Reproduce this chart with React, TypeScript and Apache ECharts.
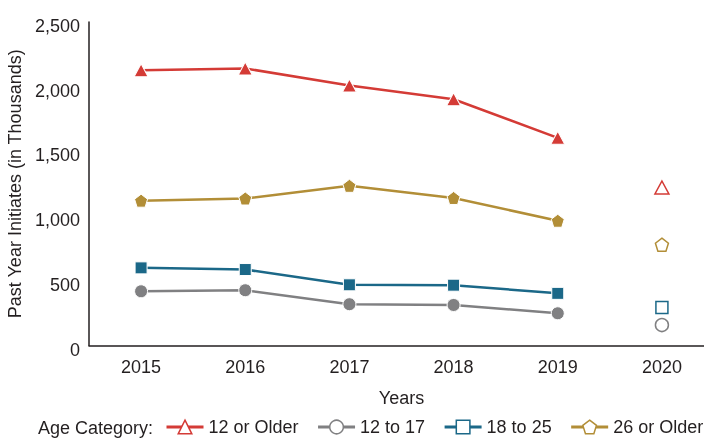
import React, { useEffect, useRef } from 'react';
import * as echarts from 'echarts';

const years = ['2015', '2016', '2017', '2018', '2019', '2020'];
const seriesNames = ['12 or Older', '12 to 17', '18 to 25', '26 or Older'];
const older12 = [2127, 2141, 2009, 1903, 1605];
const age12to17 = [419, 427, 319, 313, 249];
const age18to25 = [600, 587, 469, 466, 403];
const older26 = [1119, 1136, 1234, 1140, 964];
const values2020 = [1221, 158, 294, 779];
const yTicks = [0, 500, 1000, 1500, 2000, 2500];

const FONT = "'Liberation Sans', Arial, sans-serif";
const FS = 18;
const INK = '#231f20';
const colors = ['#d43b36', '#808082', '#1b6888', '#b28e37'];
const pentagon = 'path://M0,-10 L9.511,-3.09 L5.878,8.09 L-5.878,8.09 L-9.511,-3.09 Z';
const symbols = ['triangle', 'circle', 'rect', pentagon];
const sizes: any[] = [[14, 13], 13, 12, 13];
const mainData = [older12, age12to17, age18to25, older26];

export default function App() {
  const ref = useRef<HTMLDivElement>(null);
  useEffect(() => {
    if (!ref.current) return;
    const chart = echarts.init(ref.current, null, { renderer: 'svg' });
    const series: any[] = [];
    seriesNames.forEach((name, i) => {
      series.push({
        name,
        type: 'line',
        data: mainData[i],
        symbol: symbols[i],
        symbolSize: sizes[i],
        showSymbol: true,
        lineStyle: { color: colors[i], width: 2.5 },
        itemStyle: { color: colors[i], borderColor: '#ffffff', borderWidth: 1 },
        z: 2 + (3 - i),
      });
    });
    seriesNames.forEach((name, i) => {
      const d: any[] = years.map(() => '-');
      d[5] = values2020[i];
      series.push({
        name: name + ' 2020',
        type: 'scatter',
        data: d,
        symbol: symbols[i],
        symbolSize: sizes[i],
        itemStyle: { color: '#ffffff', borderColor: colors[i], borderWidth: 1.5, opacity: 1 },
        z: 3,
      });
    });
    chart.setOption({
      animation: false,
      textStyle: { fontFamily: FONT, color: INK },
      title: {
        text: 'Age Category:',
        left: 38,
        top: 419,
        padding: 0,
        textStyle: { fontFamily: FONT, fontSize: FS, fontWeight: 'normal', color: INK },
      },
      legend: {
        left: 165,
        top: 418,
        padding: 0,
        width: 560,
        itemWidth: 37,
        itemHeight: 17,
        itemGap: 18,
        textStyle: { fontFamily: FONT, fontSize: FS, color: INK },
        data: seriesNames.map((name, i) => ({
          name,
          itemStyle: { color: '#ffffff', borderColor: colors[i], borderWidth: 1.5 },
          lineStyle: { color: colors[i], width: 3 },
        })),
      },
      grid: { left: 89, right: -10, top: 22, bottom: 92.5, containLabel: false, outerBoundsMode: 'none' },
      xAxis: {
        type: 'category',
        data: years,
        boundaryGap: true,
        name: 'Years',
        nameLocation: 'middle',
        nameGap: 43,
        nameTextStyle: { fontFamily: FONT, fontSize: FS, color: INK },
        axisLine: { lineStyle: { color: INK, width: 1.5 } },
        axisTick: { show: false },
        axisLabel: { fontFamily: FONT, fontSize: FS, color: INK, margin: 12 },
      },
      yAxis: {
        type: 'value',
        min: yTicks[0],
        max: yTicks[yTicks.length - 1],
        interval: 500,
        name: 'Past Year Initiates (in Thousands)',
        nameLocation: 'middle',
        nameGap: 60,
        nameTextStyle: { fontFamily: FONT, fontSize: FS, color: INK },
        axisLine: { show: true, lineStyle: { color: INK, width: 1.5 } },
        axisTick: { show: false },
        splitLine: { show: false },
        axisLabel: {
          fontFamily: FONT,
          fontSize: FS,
          color: INK,
          margin: 9,
          formatter: (v: number) => '{v|' + v.toLocaleString('en-US') + '}',
          rich: {
            v: { fontFamily: FONT, fontSize: FS, color: INK, padding: [8, 0, 0, 0] },
          },
        },
      },
      series,
    });
    return () => chart.dispose();
  }, []);
  return <div ref={ref} style={{ position: 'fixed', left: 0, top: 0, width: 704, height: 438 }} />;
}
